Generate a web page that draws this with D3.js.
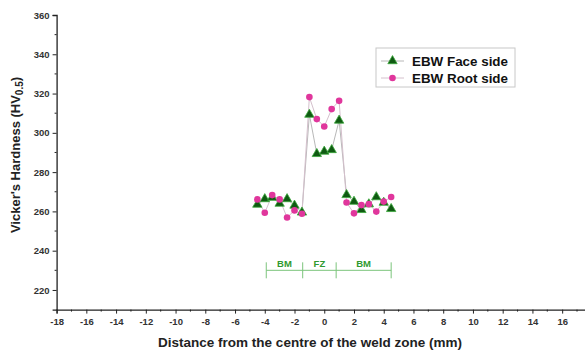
<!DOCTYPE html>
<html><head><meta charset="utf-8">
<script src="https://cdn.jsdelivr.net/npm/d3@7"></script>
<style>body{margin:0;background:#fff}svg{display:block}text{font-family:"Liberation Sans",Arial,sans-serif}</style>
</head><body><svg id="c" width="585" height="351"></svg>
<script>
const positions = [-4.5,-4,-3.5,-3,-2.5,-2,-1.5,-1,-0.5,0,0.5,1,1.5,2,2.5,3,3.5,4,4.5];
const faceSide  = [263.5,266.3,267,264,266.3,263,259.5,309.3,289.3,290.5,291.3,306.3,268.4,265,260.8,263.7,267.3,264.5,261.3];
const rootSide  = [266.1,259.3,268.3,266.1,256.9,260.5,258.8,318.2,307,303.2,312.1,316.3,264.5,259,263.2,263.7,259.9,265,267.3];
const xTicks = [-18,-16,-14,-12,-10,-8,-6,-4,-2,0,2,4,6,8,10,12,14,16];
const yTicks = [220,240,260,280,300,320,340,360];
const zoneEdges = [-3.9,-1.45,0.8,4.5];
const zoneLabels = ["BM","FZ","BM"];
const zoneLevel = 230;
const seriesNames = ["EBW Face side","EBW Root side"];

const svg = d3.select("#c");
const x = d3.scaleLinear().domain([-18,18]).range([56.6,591.9]);
const y = d3.scaleLinear().domain([210,360]).range([309.6,15]);

// axes
const xAxis = d3.axisBottom(x).tickValues(xTicks).tickSize(4).tickFormat(d=>String(d));
const gx = svg.append("g").attr("transform",`translate(0,${y(210)})`).call(xAxis);
gx.selectAll(".tick line").attr("stroke","#222");
gx.select(".domain").attr("stroke","#222").attr("stroke-width",1.3);
gx.selectAll("text").attr("font-size",9.5).attr("font-weight","bold").attr("fill","#333").attr("dy","0.85em");
const xMinor = d3.range(-17,18,2);
gx.selectAll(".mt").data(xMinor).join("line").attr("x1",d=>x(d)).attr("x2",d=>x(d)).attr("y1",0).attr("y2",2).attr("stroke","#222");

const yAxis = d3.axisLeft(y).tickValues(yTicks).tickSize(4).tickFormat(d=>String(d));
const gy = svg.append("g").attr("transform",`translate(${x(-18)},0)`).call(yAxis);
gy.selectAll(".tick line").attr("stroke","#222");
gy.select(".domain").attr("stroke","#222").attr("stroke-width",1.3);
gy.selectAll("text").attr("font-size",9.5).attr("font-weight","bold").attr("fill","#333");
const yMinor = d3.range(230,360,20);
gy.selectAll(".mt").data(yMinor).join("line").attr("x1",0).attr("x2",-2).attr("y1",d=>y(d)).attr("y2",d=>y(d)).attr("stroke","#222");

// titles
svg.append("text").attr("x",310).attr("y",347).attr("text-anchor","middle").attr("font-size",13.5).attr("font-weight","bold").attr("fill","#222")
  .text("Distance from the centre of the weld zone (mm)");
const yt = svg.append("text").attr("transform",`translate(20,155) rotate(-90)`).attr("text-anchor","middle").attr("font-size",13).attr("font-weight","bold").attr("fill","#222");
yt.append("tspan").text("Vicker's Hardness (HV");
yt.append("tspan").attr("font-size",10).attr("dy",3).text("0.5");
yt.append("tspan").attr("dy",-3).text(")");

// zone annotation
const zc = "#7cc47c";
svg.append("line").attr("x1",x(zoneEdges[0])).attr("x2",x(zoneEdges[3])).attr("y1",y(zoneLevel)).attr("y2",y(zoneLevel)).attr("stroke",zc).attr("stroke-width",1);
svg.selectAll(".ze").data(zoneEdges).join("line").attr("x1",d=>x(d)).attr("x2",d=>x(d)).attr("y1",y(zoneLevel)-8).attr("y2",y(zoneLevel)+8).attr("stroke",zc);
svg.selectAll(".zl").data(zoneLabels).join("text").attr("x",(d,i)=>(x(zoneEdges[i])+x(zoneEdges[i+1]))/2).attr("y",y(zoneLevel)-3)
  .attr("text-anchor","middle").attr("font-size",9.5).attr("font-weight","bold").attr("fill","#2f9a2f").text(d=>d);

// lines
const line = (vals)=>d3.line().x((d,i)=>x(positions[i])).y(d=>y(d))(vals);
svg.append("path").attr("d",line(faceSide)).attr("fill","none").attr("stroke","#b8b8b8").attr("stroke-width",1);
svg.append("path").attr("d",line(rootSide)).attr("fill","none").attr("stroke","#d4c0cc").attr("stroke-width",1);

const tri = d3.symbol().type(d3.symbolTriangle).size(38);
const green = "#0f5a12", greenEdge="#3aa83a", pink="#e0369c";
svg.selectAll(".f").data(faceSide).join("path").attr("d",tri).attr("transform",(d,i)=>`translate(${x(positions[i])},${y(d)})`).attr("fill",green).attr("stroke",greenEdge).attr("stroke-width",0.8);
svg.selectAll(".r").data(rootSide).join("circle").attr("cx",(d,i)=>x(positions[i])).attr("cy",d=>y(d)).attr("r",3.3).attr("fill",pink);

// legend
const lg = svg.append("g");
lg.append("rect").attr("x",376).attr("y",48).attr("width",139).attr("height",39).attr("fill","#fff").attr("stroke","#c8c8c8");
[0,1].forEach(i=>{
  const cy = 61 + i*17;
  lg.append("line").attr("x1",381).attr("x2",404).attr("y1",cy).attr("y2",cy).attr("stroke",i?"#d4c0cc":"#b8b8b8");
  if(i===0) lg.append("path").attr("d",tri).attr("transform",`translate(392.5,${cy})`).attr("fill",green).attr("stroke",greenEdge).attr("stroke-width",0.8);
  else lg.append("circle").attr("cx",392.5).attr("cy",cy).attr("r",3.3).attr("fill",pink);
  lg.append("text").attr("x",412).attr("y",cy+4.5).attr("font-size",13).attr("font-weight","bold").attr("fill","#111").attr("textLength",96).attr("lengthAdjust","spacingAndGlyphs").text(seriesNames[i]);
});
</script></body></html>
